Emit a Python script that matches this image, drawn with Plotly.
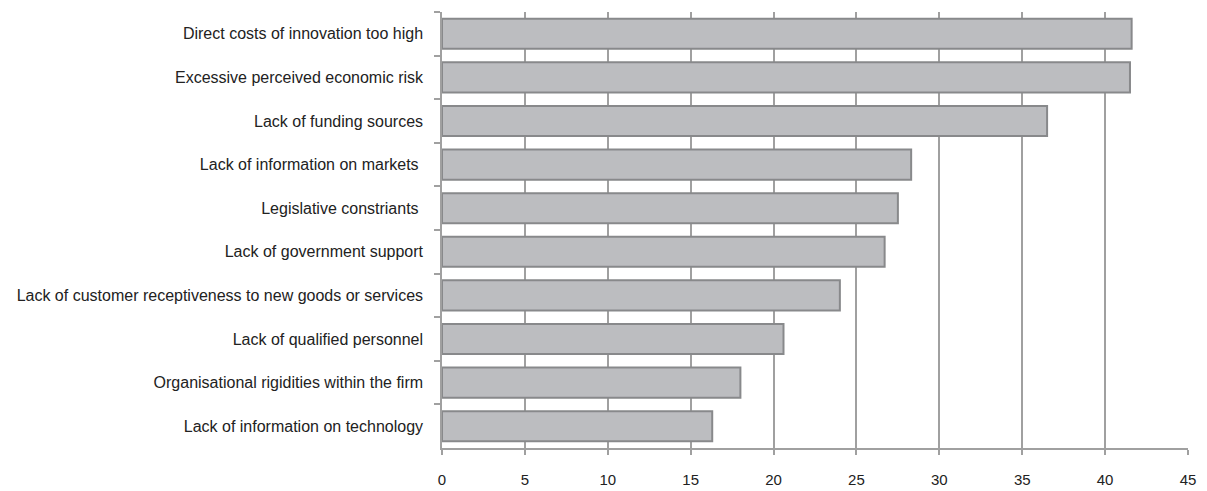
import plotly.graph_objects as go

# Barriers to innovation, share of firms (%)
barriers = [
    "Direct costs of innovation too high",
    "Excessive perceived economic risk",
    "Lack of funding sources",
    "Lack of information on markets ",
    "Legislative constriants ",
    "Lack of government support",
    "Lack of customer receptiveness to new goods or services",
    "Lack of qualified personnel",
    "Organisational rigidities within the firm",
    "Lack of information on technology",
]
shares = [41.6, 41.5, 36.5, 28.3, 27.5, 26.7, 24.0, 20.6, 18.0, 16.3]
x_ticks = [0, 5, 10, 15, 20, 25, 30, 35, 40, 45]

label_font = "Liberation Sans, Arial, sans-serif"
grid_grey = "#a0a0a0"

fig = go.Figure(
    go.Bar(
        x=shares,
        y=barriers,
        orientation="h",
        marker=dict(color="#bcbdc0", line=dict(color="#88898b", width=2)),
        hoverinfo="x+y",
    )
)

fig.update_layout(
    width=1207,
    height=491,
    margin=dict(l=442, r=19, t=12, b=43),
    paper_bgcolor="white",
    plot_bgcolor="white",
    bargap=0.31,
    showlegend=False,
    font=dict(family=label_font, color="#222222"),
)

fig.update_xaxes(
    range=[0, 45],
    tickvals=x_ticks,
    ticktext=[str(v) for v in x_ticks],
    showgrid=True,
    gridcolor=grid_grey,
    gridwidth=1.5,
    showline=True,
    linecolor=grid_grey,
    linewidth=2,
    ticks="outside",
    ticklen=5,
    tickcolor=grid_grey,
    tickwidth=1.5,
    tickfont=dict(size=15, color="#222222"),
    ticklabelstandoff=12,
    automargin=False,
    zeroline=False,
    fixedrange=True,
)

fig.update_yaxes(
    categoryorder="array",
    categoryarray=barriers,
    autorange="reversed",
    showgrid=False,
    showline=True,
    linecolor=grid_grey,
    linewidth=1.5,
    ticks="outside",
    tickson="boundaries",
    ticklen=6,
    tickcolor=grid_grey,
    tickwidth=1.5,
    tickfont=dict(size=16, color="#222222"),
    ticklabelstandoff=14,
    automargin=False,
    zeroline=False,
    fixedrange=True,
)

fig.write_html("out.html")
